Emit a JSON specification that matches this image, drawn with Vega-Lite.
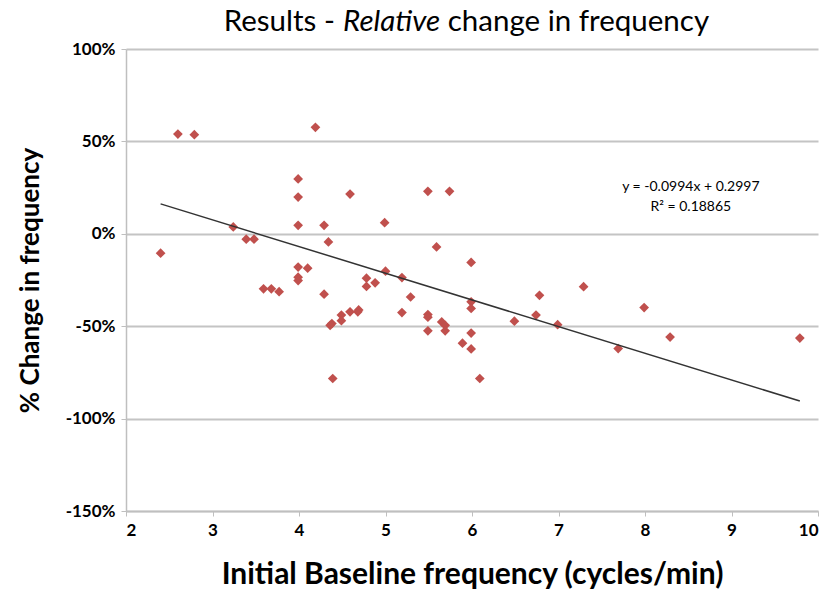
{
  "$schema": "https://vega.github.io/schema/vega-lite/v6.json",
  "width": 692,
  "height": 462,
  "autosize": {"type": "none"},
  "padding": {"left": 126, "top": 49, "right": 15, "bottom": 82},
  "background": "white",
  "config": {"view": {"stroke": null}, "font": "Lato"},
  "datasets": {
    "points": [
      {"freq": 2.40, "change": -10.5},
      {"freq": 2.60, "change": 54.0},
      {"freq": 2.79, "change": 53.6},
      {"freq": 3.24, "change": 3.7},
      {"freq": 3.39, "change": -2.9},
      {"freq": 3.48, "change": -2.9},
      {"freq": 3.59, "change": -29.8},
      {"freq": 3.68, "change": -29.8},
      {"freq": 3.77, "change": -31.3},
      {"freq": 3.99, "change": 29.7},
      {"freq": 3.99, "change": 19.9},
      {"freq": 3.99, "change": 4.6},
      {"freq": 3.99, "change": -18.0},
      {"freq": 3.99, "change": -23.5},
      {"freq": 3.99, "change": -25.3},
      {"freq": 4.10, "change": -18.6},
      {"freq": 4.19, "change": 57.6},
      {"freq": 4.29, "change": 4.6},
      {"freq": 4.34, "change": -4.4},
      {"freq": 4.29, "change": -32.7},
      {"freq": 4.38, "change": -48.6},
      {"freq": 4.36, "change": -49.5},
      {"freq": 4.39, "change": -78.3},
      {"freq": 4.49, "change": -44.0},
      {"freq": 4.49, "change": -47.0},
      {"freq": 4.59, "change": -42.2},
      {"freq": 4.68, "change": -42.2},
      {"freq": 4.69, "change": -41.2},
      {"freq": 4.59, "change": 21.5},
      {"freq": 4.78, "change": -24.0},
      {"freq": 4.78, "change": -28.5},
      {"freq": 4.88, "change": -26.5},
      {"freq": 4.99, "change": 6.0},
      {"freq": 5.00, "change": -20.2},
      {"freq": 5.19, "change": -23.7},
      {"freq": 5.19, "change": -42.6},
      {"freq": 5.29, "change": -34.2},
      {"freq": 5.49, "change": 23.0},
      {"freq": 5.49, "change": -43.7},
      {"freq": 5.49, "change": -45.1},
      {"freq": 5.49, "change": -52.5},
      {"freq": 5.59, "change": -7.1},
      {"freq": 5.65, "change": -47.7},
      {"freq": 5.69, "change": -49.5},
      {"freq": 5.69, "change": -52.5},
      {"freq": 5.74, "change": 23.0},
      {"freq": 5.89, "change": -59.2},
      {"freq": 5.99, "change": -15.5},
      {"freq": 5.99, "change": -36.8},
      {"freq": 5.99, "change": -40.4},
      {"freq": 5.99, "change": -53.7},
      {"freq": 5.99, "change": -62.3},
      {"freq": 6.09, "change": -78.3},
      {"freq": 6.49, "change": -47.3},
      {"freq": 6.74, "change": -44.0},
      {"freq": 6.78, "change": -33.3},
      {"freq": 6.99, "change": -49.2},
      {"freq": 7.29, "change": -28.6},
      {"freq": 7.69, "change": -62.1},
      {"freq": 7.99, "change": -39.9},
      {"freq": 8.29, "change": -55.9},
      {"freq": 9.79, "change": -56.4}
    ],
    "trend": [
      {"freq": 2.40, "change": 16.2},
      {"freq": 9.79, "change": -90.5}
    ],
    "equation": [
      {"freq": 8.53, "change": 25.5, "label": "y = -0.0994x + 0.2997"},
      {"freq": 8.53, "change": 14.7, "label": "R² = 0.18865"}
    ]
  },
  "encoding": {
    "x": {
      "field": "freq",
      "type": "quantitative",
      "scale": {"domain": [2, 10], "nice": false, "zero": false},
      "axis": {
        "values": [2, 3, 4, 5, 6, 7, 8, 9, 10],
        "grid": false,
        "domainColor": "#bfbfbf",
        "domainWidth": 1.5,
        "tickColor": "#bfbfbf",
        "tickSize": 5,
        "labelFont": "Lato",
        "labelFontSize": 17,
        "labelFontWeight": "bold",
        "labelColor": "#000000",
        "labelPadding": 6,
        "title": "Initial Baseline frequency (cycles/min)",
        "titleFont": "Lato",
        "titleFontSize": 30,
        "titleFontWeight": "bold",
        "titleColor": "#000000",
        "titlePadding": 21
      }
    },
    "y": {
      "field": "change",
      "type": "quantitative",
      "scale": {"domain": [-150, 100], "nice": false, "zero": false},
      "axis": {
        "values": [-150, -100, -50, 0, 50, 100],
        "labelExpr": "datum.value + '%'",
        "grid": true,
        "gridColor": "#c4c4c4",
        "gridWidth": 2,
        "domainColor": "#bfbfbf",
        "domainWidth": 1.5,
        "tickColor": "#bfbfbf",
        "tickSize": 5,
        "labelFont": "Lato",
        "labelFontSize": 17,
        "labelFontWeight": "bold",
        "labelColor": "#000000",
        "labelPadding": 6,
        "title": "% Change in frequency",
        "titleFont": "Lato",
        "titleFontSize": 26,
        "titleFontWeight": "bold",
        "titleColor": "#000000",
        "titlePadding": 22
      }
    }
  },
  "layer": [
    {
      "data": {"name": "points"},
      "mark": {"type": "point", "shape": "diamond", "filled": true, "color": "#c0504d", "opacity": 1, "size": 95}
    },
    {
      "data": {"name": "trend"},
      "mark": {"type": "line", "color": "#333333", "strokeWidth": 1.5}
    },
    {
      "data": {"name": "equation"},
      "mark": {"type": "text", "font": "Lato", "fontSize": 14, "color": "#000000", "align": "center", "baseline": "middle"},
      "encoding": {"text": {"field": "label"}}
    },
    {
      "data": {"values": [{"freq": 3.13, "change": 109.5, "label": "Results -"}]},
      "mark": {"type": "text", "font": "Lato", "fontSize": 29.5, "color": "#000000", "align": "left", "baseline": "alphabetic", "clip": false},
      "encoding": {"text": {"field": "label"}}
    },
    {
      "data": {"values": [{"freq": 4.51, "change": 109.5, "label": "Relative"}]},
      "mark": {"type": "text", "font": "Lato", "fontSize": 29.5, "fontStyle": "italic", "color": "#000000", "align": "left", "baseline": "alphabetic", "clip": false},
      "encoding": {"text": {"field": "label"}}
    },
    {
      "data": {"values": [{"freq": 5.72, "change": 109.5, "label": "change in frequency"}]},
      "mark": {"type": "text", "font": "Lato", "fontSize": 29.5, "color": "#000000", "align": "left", "baseline": "alphabetic", "clip": false},
      "encoding": {"text": {"field": "label"}}
    }
  ]
}
